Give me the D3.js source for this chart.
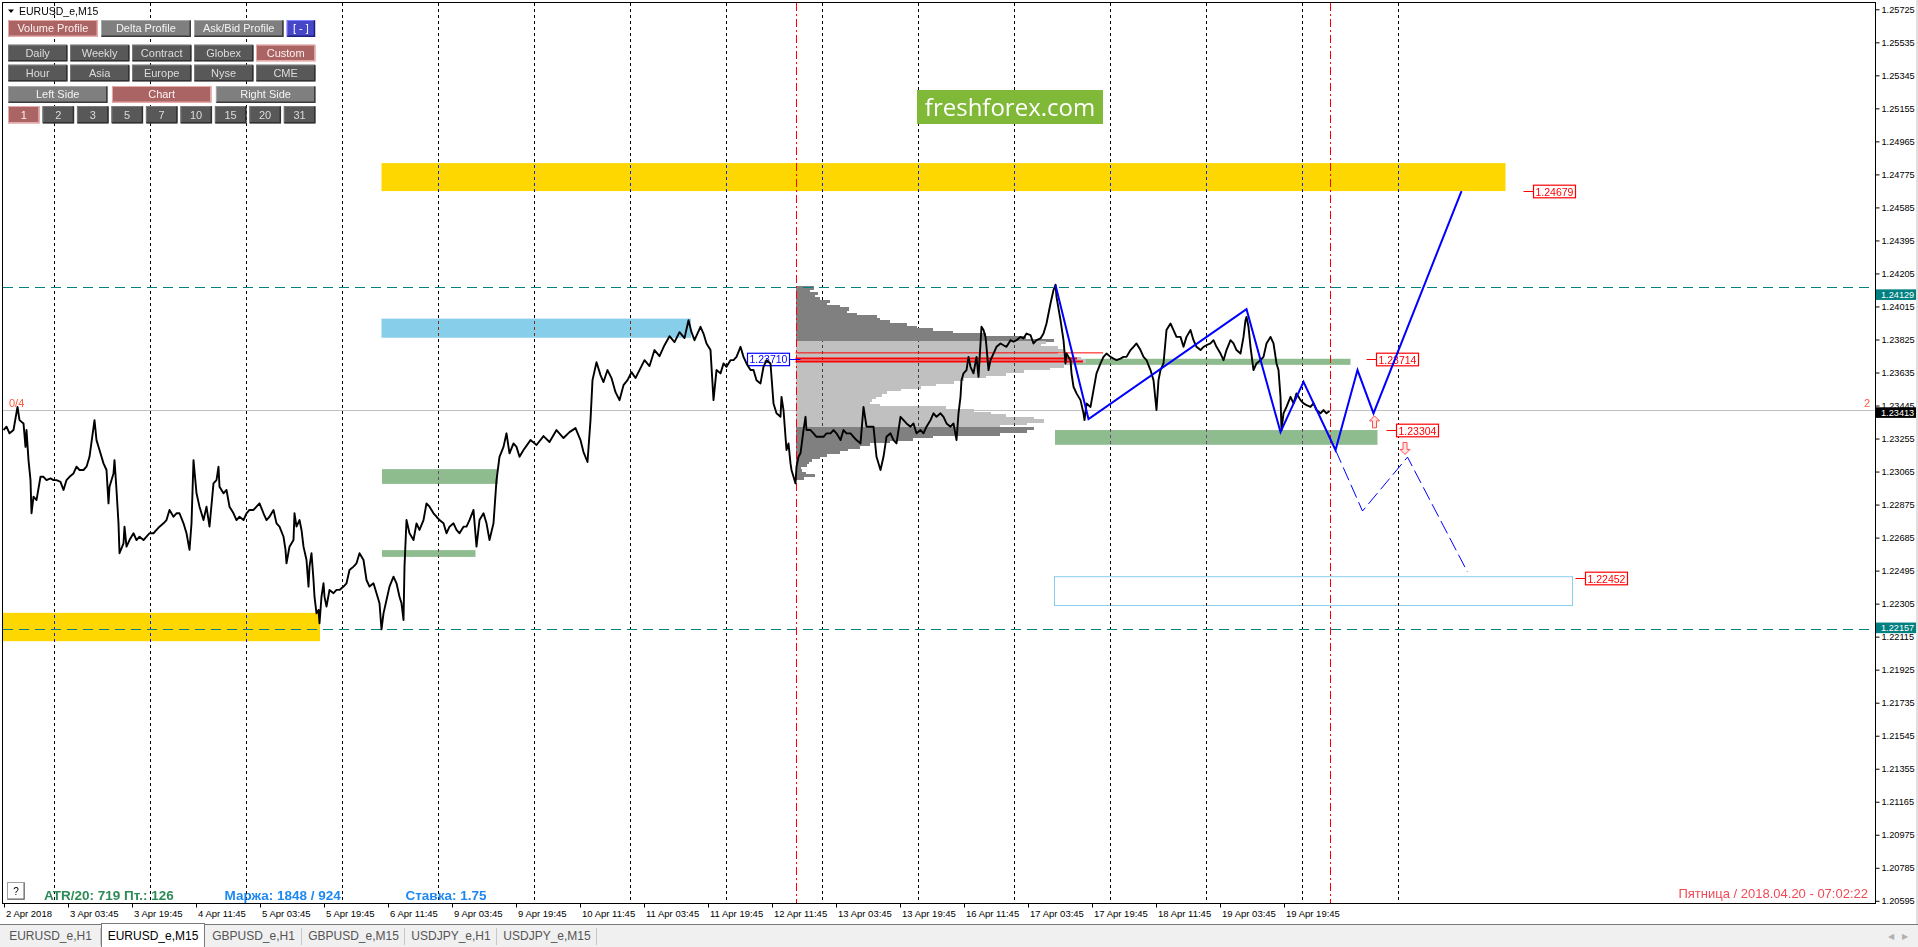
<!DOCTYPE html>
<html><head><meta charset="utf-8">
<script src="https://cdn.jsdelivr.net/npm/d3@7"></script>
<style>
html,body{margin:0;padding:0;background:#fff;overflow:hidden;}
svg{display:block;font-family:"Liberation Sans",Arial,sans-serif;}
</style></head><body>
<svg id="c" width="1918" height="947"></svg>
<script>
// ===== DATA =====
const symbolTitle = "EURUSD_e,M15";
// M15 close prices: [bar index, close]
const closes = [
[0,1.23304],[3,1.23323],[6,1.23285],[10,1.23304],[14,1.23437],[16,1.23361],[20,1.23342],[22,1.23207],[23,1.23304],[25,1.23131],[27,1.23016],[28,1.22825],[30,1.22920],[33,1.22901],[37,1.23035],[40,1.23035],[43,1.23016],[47,1.23026],[50,1.23016],[53,1.23016],[57,1.23006],[60,1.22959],[63,1.23016],[66,1.23035],[70,1.23054],[73,1.23093],[76,1.23074],[80,1.23074],[83,1.23093],[86,1.23150],[91,1.23361],[93,1.23246],[96,1.23189],[100,1.23112],[103,1.23074],[105,1.22882],[106,1.22978],[110,1.23054],[111,1.23131],[113,1.22959],[115,1.22767],[116,1.22595],[120,1.22652],[121,1.22748],[123,1.22633],[126,1.22671],[130,1.22710],[133,1.22671],[136,1.22690],[140,1.22671],[143,1.22690],[146,1.22710],[150,1.22710],[153,1.22729],[156,1.22748],[160,1.22767],[163,1.22786],[166,1.22844],[170,1.22805],[173,1.22825],[176,1.22825],[180,1.22767],[183,1.22710],[186,1.22614],[188,1.22767],[190,1.23131],[193,1.22940],[196,1.22863],[200,1.22786],[203,1.22863],[206,1.22748],[210,1.22997],[213,1.23016],[215,1.23093],[216,1.22978],[220,1.22940],[223,1.22959],[226,1.22863],[230,1.22825],[233,1.22786],[236,1.22805],[240,1.22786],[243,1.22825],[246,1.22844],[250,1.22844],[253,1.22863],[256,1.22882],[260,1.22825],[263,1.22786],[266,1.22805],[270,1.22844],[273,1.22767],[276,1.22748],[280,1.22690],[282,1.22614],[283,1.22537],[286,1.22633],[290,1.22671],[291,1.22825],[293,1.22748],[296,1.22786],[298,1.22729],[300,1.22633],[303,1.22556],[305,1.22403],[306,1.22518],[308,1.22595],[310,1.22441],[311,1.22345],[313,1.22249],[315,1.22269],[316,1.22192],[318,1.22345],[320,1.22422],[321,1.22345],[323,1.22288],[326,1.22384],[330,1.22365],[333,1.22384],[336,1.22384],[340,1.22403],[343,1.22422],[346,1.22499],[350,1.22518],[353,1.22537],[356,1.22595],[360,1.22556],[363,1.22441],[366,1.22403],[370,1.22422],[373,1.22365],[376,1.22307],[378,1.22157],[380,1.22249],[383,1.22326],[386,1.22403],[390,1.22460],[393,1.22422],[396,1.22345],[398,1.22307],[400,1.22211],[401,1.22518],[403,1.22786],[406,1.22710],[410,1.22671],[413,1.22767],[416,1.22729],[420,1.22786],[423,1.22882],[426,1.22863],[430,1.22825],[433,1.22805],[436,1.22786],[440,1.22767],[443,1.22710],[446,1.22748],[450,1.22767],[453,1.22729],[456,1.22710],[460,1.22748],[463,1.22748],[466,1.22786],[470,1.22844],[473,1.22633],[476,1.22786],[480,1.22825],[483,1.22767],[486,1.22671],[490,1.22767],[493,1.23016],[496,1.23150],[500,1.23207],[503,1.23285],[506,1.23170],[510,1.23227],[513,1.23207],[516,1.23150],
[520,1.23189],[527,1.23246],[533,1.23218],[540,1.23269],[546,1.23235],[553,1.23304],[560,1.23258],[566,1.23292],[572,1.23315],[577,1.23246],[580,1.23177],[584,1.23120],[587,1.23361],[589,1.23591],[593,1.23694],[597,1.23620],[600,1.23580],[604,1.23649],[608,1.23603],[612,1.23522],[616,1.23476],[620,1.23562],[624,1.23591],[628,1.23637],[632,1.23603],[636,1.23649],[641,1.23706],[646,1.23672],[651,1.23764],[656,1.23729],[661,1.23792],[666,1.23844],[671,1.23810],[676,1.23867],[681,1.23833],[685,1.23936],[688,1.23867],[691,1.23821],
[697,1.23898],[700,1.23859],[703,1.23802],[707,1.23764],[710,1.23476],[713,1.23649],[717,1.23630],[720,1.23687],[723,1.23668],[727,1.23706],[730,1.23706],[733,1.23725],[737,1.23783],[740,1.23725],[743,1.23687],[747,1.23649],[750,1.23649],[753,1.23591],[757,1.23572],[760,1.23668],[763,1.23706],[767,1.23687],[768,1.23610],[770,1.23457],[773,1.23400],[777,1.23380],[778,1.23495],[780,1.23419],[782,1.23265],[783,1.23189],[785,1.23227],[787,1.23112],[788,1.23074],[790,1.23035],[792,1.22997],[793,1.23093],[795,1.23150],[797,1.23170],[800,1.23304],[802,1.23380],[803,1.23304],[807,1.23304],[810,1.23285],[813,1.23265],[817,1.23265],[820,1.23265],[823,1.23285],[827,1.23285],[830,1.23304],[833,1.23285],[837,1.23246],[840,1.23304],[843,1.23285],[847,1.23285],[850,1.23265],[853,1.23246],[857,1.23227],[860,1.23437],[863,1.23323],[867,1.23323],[870,1.23323],[873,1.23150],[877,1.23074],[880,1.23150],[883,1.23265],[887,1.23285],[890,1.23246],[893,1.23227],[897,1.23380],[900,1.23361],[903,1.23342],[907,1.23323],[910,1.23342],[913,1.23285],[917,1.23304],[920,1.23285],[923,1.23323],[927,1.23361],[930,1.23400],[933,1.23380],[937,1.23400],[940,1.23380],[943,1.23342],[947,1.23323],[950,1.23342],[953,1.23246],[955,1.23400],[957,1.23495],[958,1.23591],[960,1.23630],[963,1.23649],[965,1.23725],[967,1.23668],[970,1.23630],[973,1.23725],[975,1.23610],[977,1.23802],[978,1.23898],[980,1.23879],[982,1.23840],[983,1.23783],[985,1.23649],[987,1.23706],[990,1.23744],[993,1.23783],[997,1.23802],[1000,1.23792],[1003,1.23783],[1007,1.23821],[1010,1.23812],[1013,1.23821],[1017,1.23840],[1020,1.23831],[1023,1.23859],[1027,1.23850],[1030,1.23802],[1033,1.23821],[1037,1.23831],[1040,1.23859],[1043,1.23917],[1047,1.24032],[1050,1.24109],[1052,1.24140],
[1053,1.24070],[1057,1.23936],[1060,1.23821],[1062,1.23687],[1063,1.23744],[1067,1.23706],[1068,1.23630],[1070,1.23553],[1073,1.23515],[1077,1.23476],[1080,1.23400],[1081,1.23361],[1083,1.23457],[1087,1.23437],[1090,1.23534],[1093,1.23630],[1097,1.23687],[1100,1.23725],[1103,1.23744],[1107,1.23725],[1110,1.23715],[1113,1.23706],[1117,1.23715],[1120,1.23725],[1123,1.23725],[1127,1.23764],[1130,1.23783],[1133,1.23802],[1137,1.23764],[1140,1.23725],[1143,1.23706],[1147,1.23649],[1150,1.23591],[1153,1.23419],[1155,1.23591],[1157,1.23649],[1160,1.23687],[1163,1.23879],[1167,1.23917],[1170,1.23879],[1173,1.23840],[1177,1.23840],[1180,1.23783],[1183,1.23840],[1187,1.23879],[1190,1.23821],[1193,1.23783],[1197,1.23764],[1200,1.23783],[1203,1.23792],[1207,1.23802],[1210,1.23821],[1213,1.23783],[1217,1.23744],[1220,1.23706],[1223,1.23764],[1227,1.23821],[1230,1.23802],[1233,1.23764],[1237,1.23744],[1240,1.23840],[1242,1.23936],[1243,1.23955],[1245,1.23898],[1247,1.23783],[1250,1.23649],[1253,1.23687],[1257,1.23706],[1260,1.23725],[1263,1.23802],[1267,1.23840],[1270,1.23802],[1273,1.23687],[1275,1.23649],[1277,1.23495],[1278,1.23304],[1280,1.23400],[1283,1.23437],[1287,1.23495],[1290,1.23457],[1293,1.23515],[1297,1.23476],[1300,1.23457],[1303,1.23447],[1307,1.23437],[1310,1.23457],[1313,1.23419],[1317,1.23400],[1320,1.23419],[1323,1.23400],[1326,1.23413]
];
const bidPrice = 1.23413;
const supportLevels = [1.24129, 1.22157];
// zones: [startBar, endBar, topPrice, bottomPrice]
const yellowZones = [[378,1502,1.24840,1.24679],[-4,316.5,1.22252,1.22089]];
const blueZones   = [[378,687.5,1.23945,1.23835]];
const greenZones  = [[378.5,494.5,1.23079,1.22994],[378.5,472,1.22613,1.22574],[1051.5,1347,1.23714,1.23679],[1051.5,1374,1.23304,1.23219]];
const targetBox   = [1051,1569,1.22460,1.22294];
// volume profile (12 Apr 11:45 -> now)
const profileStartBar = 792;
const profileTop = 1.24130, profileStep = 0.00015;
const profileVolumes = [18,14,22,19,24,34,31,44,53,51,61,81,84,94,111,121,137,157,190,230,258,
 250,245,262,268,262,270,285,290,275,268,254,228,210,190,168,158,140,125,105,91,86,80,76,74,84,150,178,195,210,238,248,231,204,
 238,231,204,137,117,94,74,64,52,44,31,24,16,13,11,5,6,10,19,8];
const valueAreaHigh = 1.23815, valueAreaLow = 1.23320;
// POC / level lines: [price, endBar, width]
const pocLines = [[1.23748,1099.5,1],[1.23716,1073.5,2],[1.23699,1079.5,2]];
const pocLabel = {price:1.23710, bar:786, text:"1.23710"};
// vertical session markers (bars)
const sessionMarks = [792, 1326];
// zigzag
const zigzag = [[1052,1.24138],[1085,1.23367],[1243,1.23999],[1277,1.23292],[1300,1.23581],[1332,1.23189],[1354,1.23649],[1370,1.23400],[1458,1.24679]];
const zigzagAlt = [[1332,1.23189],[1359,1.22838],[1404,1.23148],[1464,1.22487]];
const arrows = [[1371,1.23351,"up"],[1401.5,1.23198,"down"]];
const targetLabels = [[1.24679,1530],[1.23714,1373],[1.23304,1393],[1.22452,1582]];
// axes
const priceTicks = d3.range(0,28).map(i => +(1.25725 - i*0.0019).toFixed(5));
const timeLabels = ["2 Apr 2018","3 Apr 03:45","3 Apr 19:45","4 Apr 11:45","5 Apr 03:45","5 Apr 19:45","6 Apr 11:45","9 Apr 03:45","9 Apr 19:45","10 Apr 11:45","11 Apr 03:45","11 Apr 19:45","12 Apr 11:45","13 Apr 03:45","13 Apr 19:45","16 Apr 11:45","17 Apr 03:45","17 Apr 19:45","18 Apr 11:45","19 Apr 03:45","19 Apr 19:45"];
const barsPerLabel = 64, barsPerDay = 96, firstDayBreak = 50, lastBar = 1400;
// UI texts
const row1Labels = ["Volume Profile","Delta Profile","Ask/Bid Profile","[ - ]"];
const row2Labels = ["Daily","Weekly","Contract","Globex","Custom"];
const row3Labels = ["Hour","Asia","Europe","Nyse","CME"];
const row4Labels = ["Left Side","Chart","Right Side"];
const row5Labels = ["1","2","3","5","7","10","15","20","31"];
const infoTexts = [["ATR/20: 719  Пт.: 126","#2e8b57"],["Маржа: 1848 / 924","#1e88f0"],["Ставка: 1.75","#1e88f0"]];
const clockText = "Пятница  /  2018.04.20  -  07:02:22";
const tabs = ["EURUSD_e,H1","EURUSD_e,M15","GBPUSD_e,H1","GBPUSD_e,M15","USDJPY_e,H1","USDJPY_e,M15"];

// ===== DRAW =====
const svg = d3.select("#c");
const PL=3, PT=3, PR=1875, PB=903;
const x = d3.scaleLinear().domain([0,1]).range([3.5,4.5]);
const y = d3.scaleLinear().domain([1.20595,1.25725]).range([900.8,9.3]);
const vol = d3.scaleLinear().domain([0,290]).range([0,290]);

svg.append("rect").attr("width",1918).attr("height",947).attr("fill","#fff");
svg.append("rect").attr("x",1916).attr("y",0).attr("width",2).attr("height",924).attr("fill","#e0e0e0");
svg.append("defs").append("clipPath").attr("id","pc").append("rect").attr("x",PL).attr("y",PT).attr("width",PR-PL).attr("height",PB-PT);
const g = svg.append("g").attr("clip-path","url(#pc)");
g.append("rect").attr("x",PL).attr("y",PT).attr("width",PR-PL).attr("height",PB-PT).attr("fill","#fff");

function zone(d,fill){ return g.append("rect").attr("x",x(d[0])).attr("width",x(d[1])-x(d[0])).attr("y",y(d[2])).attr("height",y(d[3])-y(d[2])).attr("fill",fill); }
yellowZones.forEach(d=>zone(d,"#ffd700"));
blueZones.forEach(d=>zone(d,"#87ceeb"));
greenZones.forEach(d=>zone(d,"#8fbc8f"));
zone(targetBox,"none").attr("stroke","#87ceeb").attr("stroke-width",1);

// volume profile
g.append("g").attr("shape-rendering","crispEdges").selectAll("rect").data(profileVolumes).join("rect")
 .attr("x",x(profileStartBar)).attr("width",d=>vol(d))
 .attr("y",(d,i)=>y(profileTop - i*profileStep))
 .attr("height",(d,i)=>y(profileTop-(i+1)*profileStep)-y(profileTop-i*profileStep)+0.6)
 .attr("fill",(d,i)=>{const p=profileTop-i*profileStep; return (p<=valueAreaHigh+1e-9 && p>valueAreaLow+1e-9)?"#c0c0c0":"#808080";});

// day separators (XOR-like)
const seps = d3.range(firstDayBreak,lastBar,barsPerDay);
g.append("g").style("mix-blend-mode","difference").attr("shape-rendering","crispEdges").selectAll("line").data(seps).join("line")
 .attr("x1",d=>Math.round(x(d))+0.5).attr("x2",d=>Math.round(x(d))+0.5).attr("y1",PT).attr("y2",PB)
 .attr("stroke","#fff").attr("stroke-width",1).attr("stroke-dasharray","3,3");

// horizontal levels
g.append("line").attr("x1",PL).attr("x2",PR).attr("y1",Math.round(y(bidPrice))-0.5).attr("y2",Math.round(y(bidPrice))-0.5).attr("stroke","#c0c0c0");
supportLevels.forEach(p=>g.append("line").attr("x1",PL).attr("x2",PR).attr("y1",Math.round(y(p))+0.5).attr("y2",Math.round(y(p))+0.5)
 .attr("stroke","#008080").attr("stroke-width",1.2).attr("stroke-dasharray","10,6"));

// POC lines
pocLines.forEach(d=>g.append("line").attr("x1",x(profileStartBar)).attr("x2",x(d[1])).attr("y1",y(d[0])).attr("y2",y(d[0])).attr("stroke","#ff0000").attr("stroke-width",d[2]));

// session markers
sessionMarks.forEach(b=>g.append("line").attr("x1",Math.round(x(b))+0.5).attr("x2",Math.round(x(b))+0.5).attr("y1",PT).attr("y2",PB)
 .attr("stroke","#ff0000").attr("stroke-width",1).attr("stroke-dasharray","8,3,2,3"));

// POC label (blue)
{const yy=y(pocLabel.price), xr=x(pocLabel.bar);
 g.append("line").attr("x1",xr).attr("x2",x(pocLabel.bar+11)).attr("y1",yy).attr("y2",yy).attr("stroke","#0000ff");
 g.append("rect").attr("x",xr-42).attr("y",yy-6.2).attr("width",42).attr("height",12.4).attr("fill","#fff").attr("stroke","#0000ff").attr("stroke-width",1.2);
 g.append("text").attr("x",xr-40).attr("y",yy+4).attr("font-size",10.5).attr("fill","#0000ff").text(pocLabel.text);}

// target labels (red)
targetLabels.forEach(([p,b])=>{const yy=Math.round(y(p))+0.5, xl=x(b);
 g.append("line").attr("x1",xl-10).attr("x2",xl).attr("y1",yy).attr("y2",yy).attr("stroke","#ff0000");
 g.append("rect").attr("x",xl).attr("y",yy-6.3).attr("width",42).attr("height",12.6).attr("fill","#fff").attr("stroke","#ff0000").attr("stroke-width",1.2);
 g.append("text").attr("x",xl+2).attr("y",yy+4).attr("font-size",10.5).attr("fill","#ff0000").text(p.toFixed(5));});

// price line
const line = d3.line().x(d=>x(d[0])).y(d=>y(d[1]));
g.append("path").datum(closes).attr("d",line).attr("fill","none").attr("stroke","#000").attr("stroke-width",1.9).attr("stroke-linejoin","round");

// zigzags
g.append("path").datum(zigzag).attr("d",line).attr("fill","none").attr("stroke","#0000ff").attr("stroke-width",2);
g.append("path").datum(zigzagAlt).attr("d",line).attr("fill","none").attr("stroke","#0000ff").attr("stroke-width",1).attr("stroke-dasharray","14,5");

// arrows
arrows.forEach(([b,p,dir])=>{const s = dir==="up"?1:-1;
 const pts=[[0,-6],[5,-1],[2,-1],[2,6],[-2,6],[-2,-1],[-5,-1]].map(q=>[x(b)+q[0], y(p)+s*q[1]]);
 g.append("path").attr("d","M"+pts.join("L")+"Z").attr("fill","#ffe4e4").attr("stroke","#ff5050").attr("stroke-width",1);});

// extra chart texts
g.append("text").attr("x",9).attr("y",y(bidPrice)-4).attr("font-size",11).attr("fill","#ff5a3c").text("0/4");
g.append("text").attr("x",1864).attr("y",y(bidPrice)-4).attr("font-size",11).attr("fill","#ff5a3c").text("2");

// logo
g.append("rect").attr("x",917).attr("y",90).attr("width",186).attr("height",34).attr("fill","#80b938");
g.append("text").attr("x",1010).attr("y",115.5).attr("text-anchor","middle").attr("font-family","'Open Sans',sans-serif").attr("font-size",24).attr("fill","#fff").text("freshforex.com");

// header
g.append("path").attr("d","M8,9.5L14,9.5L11,13Z").attr("fill","#000");
g.append("text").attr("x",19).attr("y",15).attr("font-size",10.5).attr("fill","#000").text(symbolTitle);

// buttons
const styles = {
 act:{fill:"#aa6464",hi:"#e6aaaa",lo:"#e6aaaa",txt:"#fff0f0"},
 mid:{fill:"#7f7f7f",hi:"#a8a8a8",lo:"#3a3a3a",txt:"#f4f4f4"},
 dark:{fill:"#585858",hi:"#7a7a7a",lo:"#303030",txt:"#dcdcdc"},
 blue:{fill:"#4646c8",hi:"#8080ff",lo:"#20207a",txt:"#ffffff"}
};
function button(bx,by,bw,bh,label,st){
 const s=styles[st]; const bg=g.append("g");
 bg.append("rect").attr("x",bx).attr("y",by).attr("width",bw).attr("height",bh).attr("fill",s.fill);
 bg.append("path").attr("d",`M${bx+0.5},${by+bh-0.5}V${by+0.5}H${bx+bw-0.5}`).attr("fill","none").attr("stroke",s.hi);
 bg.append("path").attr("d",`M${bx+0.5},${by+bh-0.5}H${bx+bw-0.5}V${by+0.5}`).attr("fill","none").attr("stroke",s.lo).attr("stroke-width",1.5);
 bg.append("text").attr("x",bx+bw/2).attr("y",by+bh/2+4).attr("text-anchor","middle").attr("font-size",11).attr("fill",s.txt).text(label);
}
function rowButtons(labels,by,bh,gap,styleFn,widths){
 const total=307.3; let cx=8;
 const n=labels.length; const w = widths || labels.map(()=> (total-gap*(n-1))/n);
 labels.forEach((l,i)=>{button(cx,by,w[i],bh,l,styleFn(i)); cx+=w[i]+gap;});
}
rowButtons(row1Labels,20,16.7,3.3,i=>i===0?"act":(i===3?"blue":"mid"),[89.7,89.7,89.4,28.3]);
rowButtons(row2Labels,44.7,16.5,2.7,i=>i===4?"act":"dark");
rowButtons(row3Labels,64.7,16.6,2.7,()=>"dark");
rowButtons(row4Labels,86,16.7,4.6,i=>i===1?"act":"mid");
rowButtons(row5Labels,106,17.3,3,i=>i===0?"act":"dark");

// bottom info
g.append("rect").attr("x",7.5).attr("y",882.5).attr("width",17).attr("height",17).attr("fill","#fff").attr("stroke","#a0a0a0");
g.append("path").attr("d","M8,899H24V883").attr("fill","none").attr("stroke","#606060");
g.append("text").attr("x",16).attr("y",895).attr("text-anchor","middle").attr("font-size",10).attr("fill","#000").text("?");
const infoX=[44,224.5,405.5];
infoTexts.forEach((t,i)=>g.append("text").attr("x",infoX[i]).attr("y",899.5).attr("font-size",13.5).attr("font-weight","bold").attr("fill",t[1]).text(t[0]));
g.append("text").attr("x",1868).attr("y",898).attr("text-anchor","end").attr("font-size",13).attr("fill","#f04a55").text(clockText);

// border
svg.append("rect").attr("x",PL-0.5).attr("y",PT-0.5).attr("width",PR-PL+1).attr("height",PB-PT+1).attr("fill","none").attr("stroke","#000");

// price axis
const ay = svg.append("g").attr("transform",`translate(${PR+0.5},0)`)
 .call(d3.axisRight(y).tickValues(priceTicks).tickFormat(d3.format(".5f")).tickSize(4).tickPadding(2));
ay.select(".domain").remove();
ay.selectAll("text").attr("font-size",9.2).attr("font-family","'Liberation Sans',Arial,sans-serif").attr("fill","#000");
ay.selectAll("line").attr("stroke","#000");
// special axis boxes
const axisBoxes=[[supportLevels[0],"#008080",8],[bidPrice,"#000000",1.5],[supportLevels[1],"#008080",-1.5]];
axisBoxes.forEach(([p,c,off])=>{const cy=y(p)+off;
 svg.append("rect").attr("x",PR+1).attr("y",cy-5.3).attr("width",40).attr("height",10.6).attr("fill",c);
 svg.append("text").attr("x",PR+6).attr("y",cy+3.2).attr("font-size",9.2).attr("fill","#fff").text(p.toFixed(5));});

// time axis
const tickBars = timeLabels.map((t,i)=>i*barsPerLabel);
const ax = svg.append("g").attr("transform",`translate(0,${PB+0.5})`)
 .call(d3.axisBottom(x).tickValues(tickBars).tickFormat((d,i)=>timeLabels[i]).tickSize(4).tickPadding(3));
ax.select(".domain").remove();
ax.selectAll("line").attr("stroke","#000").attr("transform","translate(0.5,0)");
ax.selectAll("text").attr("text-anchor","start").attr("x",2).attr("font-size",9.5).attr("font-family","'Liberation Sans',Arial,sans-serif").attr("fill","#000");

// tabs
svg.append("rect").attr("x",0).attr("y",924).attr("width",1918).attr("height",23).attr("fill","#f0f0f0");
svg.append("line").attr("x1",0).attr("x2",1918).attr("y1",924.5).attr("y2",924.5).attr("stroke","#7a7a7a");
const tabX=[0,101,205,302,405,497,597];
tabs.forEach((t,i)=>{
 if(i===1){svg.append("rect").attr("x",tabX[i]+0.5).attr("y",923.5).attr("width",tabX[i+1]-tabX[i]-1).attr("height",24).attr("fill","#fff").attr("stroke","#7a7a7a");}
 else {svg.append("line").attr("x1",tabX[i+1]-0.5).attr("x2",tabX[i+1]-0.5).attr("y1",928).attr("y2",945).attr("stroke","#c8c8c8");}
 svg.append("text").attr("x",(tabX[i]+tabX[i+1])/2).attr("y",940).attr("text-anchor","middle").attr("font-size",12).attr("fill",i===1?"#000":"#555").text(t);
});
svg.append("text").attr("x",1888).attr("y",939).attr("font-size",8).attr("fill","#b0b0b0").text("◀");
svg.append("text").attr("x",1902).attr("y",939).attr("font-size",8).attr("fill","#b0b0b0").text("▶");
</script>
</body></html>
